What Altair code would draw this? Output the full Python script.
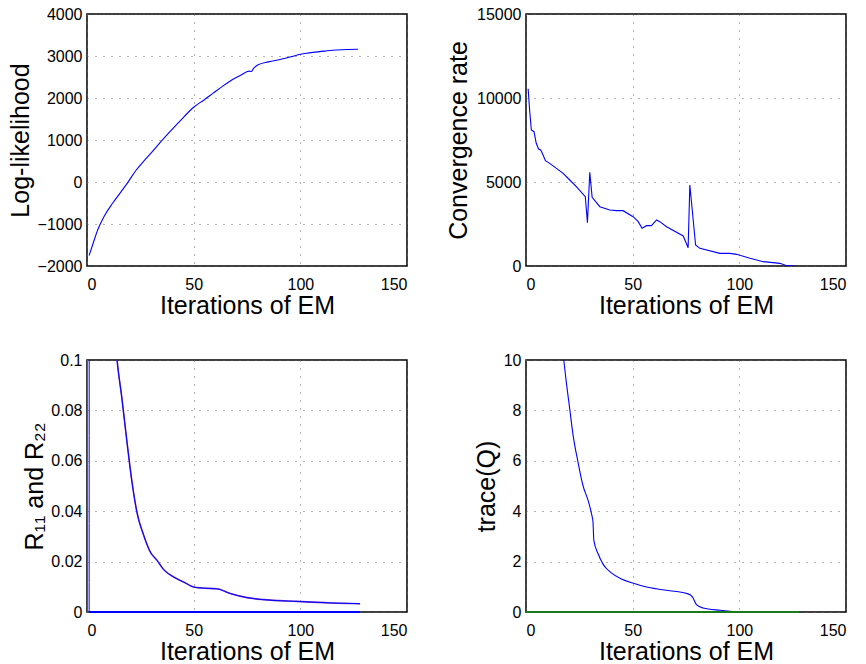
import altair as alt
import pandas as pd

# ---------------- data ----------------
ll_iter = [1, 3, 5, 8, 12, 16, 19, 23, 27, 30, 36, 43, 50, 55, 59, 63, 67, 72, 76, 77, 78, 80, 85, 91, 96, 100, 106, 112, 117, 122, 127]
ll_val = [-1750, -1440, -1143, -820, -507, -230, -20, 280, 520, 690, 1040, 1420, 1780, 1960, 2110, 2260, 2400, 2540, 2640, 2630, 2700, 2786, 2860, 2921, 2985, 3040, 3087, 3120, 3143, 3155, 3159]

cr_iter = [1, 1.7, 2.5, 3.75, 4.8, 5.9, 6.9, 8, 9.1, 11.1, 17.4, 20.5, 23.6, 27.8, 28.8, 29.9, 31, 34.6, 39.3, 42.4, 45.5, 50.2, 52.6, 54.4, 56.5, 58.8, 61.2, 62.7, 65.9, 73.7, 76, 76.8, 79.5, 81.5, 90.9, 95.6, 98.7, 105, 111.2, 119, 122.2, 126]
cr_val = [10550, 9286, 8095, 7996, 7302, 6964, 6905, 6607, 6270, 6111, 5516, 5119, 4722, 4127, 2579, 5575, 4087, 3532, 3333, 3294, 3294, 2937, 2639, 2242, 2401, 2401, 2738, 2639, 2341, 1786, 1091, 4821, 1250, 1052, 754, 754, 694, 456, 258, 159, 20, 0]

r_iter = [14.1, 16.4, 18.75, 21.1, 23.4, 26.6, 29.7, 32.8, 35.9, 40.6, 45.3, 50, 53.9, 60.9, 67.2, 75, 82.8, 98.4, 114, 128]
r_val = [0.1, 0.0845, 0.0674, 0.0515, 0.0396, 0.0304, 0.0238, 0.0205, 0.0169, 0.0139, 0.0119, 0.0099, 0.0095, 0.0092, 0.0073, 0.0057, 0.0049, 0.0042, 0.0036, 0.0033]
r11_start_iter = [0, 0.5, 3]
r11_start_val = [0, 0.5, 0.3]
r22_start_iter = [1, 1.2, 3]
r22_start_val = [0, 0.5, 0.3]
r_off_iter = [1, 128]
r_off_val = [0, 0]

q_iter = [16, 17.7, 18.9, 20.5, 22.1, 24.4, 26.7, 29.1, 30.7, 31.4, 31.8, 33.8, 36.1, 40, 45, 50, 56, 64, 76, 78, 80, 83, 91, 100, 128]
q_val = [11.5, 10, 9.11, 8.06, 7.0, 5.94, 5.02, 4.43, 3.9, 3.57, 2.84, 2.31, 1.9, 1.55, 1.3, 1.15, 1.0, 0.88, 0.72, 0.6, 0.28, 0.16, 0.07, 0.01, 0]
q2_iter = [0, 128]
q2_val = [0, 0]

x_ticks = [0, 50, 100, 150]

FONT = "Liberation Sans"
W, H = 320, 252


def df(xs, ys):
    return pd.DataFrame({"it": xs, "v": ys})


def xenc():
    return alt.X("it:Q", scale=alt.Scale(domain=[0, 150], nice=False, zero=False),
                 axis=alt.Axis(values=x_ticks, title="Iterations of EM", titleY=47,
                               titleBaseline="alphabetic"))


def yenc(dom, ticks, title, tx):
    return alt.Y("v:Q", scale=alt.Scale(domain=dom, nice=False, zero=False),
                 axis=alt.Axis(values=ticks, title=title, titleX=tx,
                               titleBaseline="alphabetic", titleAngle=270))


def line(data, dom, ticks, title, tx, color="#0000ff", width=1.1, interp="linear", clip=True):
    return alt.Chart(data).mark_line(clip=clip, color=color, strokeWidth=width,
                                     interpolate=interp).encode(
        x=xenc(), y=yenc(dom, ticks, title, tx))


ll_dom, ll_ticks = [-2000, 4000], [-2000, -1000, 0, 1000, 2000, 3000, 4000]
p1 = line(df(ll_iter, ll_val), ll_dom, ll_ticks, "Log-likelihood", -59,
          interp="monotone").properties(width=W, height=H)

cr_dom, cr_ticks = [0, 15000], [0, 5000, 10000, 15000]
p2 = line(df(cr_iter, cr_val), cr_dom, cr_ticks, "Convergence rate", -60).properties(width=W, height=H)

r_dom, r_ticks = [0, 0.1], [0, 0.02, 0.04, 0.06, 0.08, 0.1]
rt = "R\u2081\u2081 and R\u2082\u2082"
p3 = alt.layer(
    line(df(r11_start_iter + r_iter, r11_start_val + r_val), r_dom, r_ticks, rt, -45,
         color="#8040c0", width=1.6, interp="monotone"),
    line(df(r22_start_iter + r_iter, r22_start_val + r_val), r_dom, r_ticks, rt, -45,
         width=1.0, interp="monotone"),
    line(df(r_off_iter, r_off_val), r_dom, r_ticks, rt, -45, width=2.2, clip=False),
).properties(width=W, height=H)

q_dom, q_ticks = [0, 10], [0, 2, 4, 6, 8, 10]
p4 = alt.layer(
    line(df(q_iter, q_val), q_dom, q_ticks, "trace(Q)", -32, interp="monotone"),
    line(df(q2_iter, q2_val), q_dom, q_ticks, "trace(Q)", -32, color="#1a7a1a", width=2,
         clip=False),
).properties(width=W, height=H)

chart = alt.concat(p1, p2, p3, p4, columns=2, bounds="flush",
                   spacing={"row": 94, "column": 119}).properties(
    padding={"left": -1, "top": -3, "right": 5, "bottom": 0}
).configure_view(
    stroke="#000000", strokeWidth=1.5
).configure_axis(
    labelFont=FONT, labelFontSize=16, labelColor="#000000",
    titleFont=FONT, titleFontSize=25, titleFontWeight="normal", titleColor="#000000",
    grid=True, gridColor="#666666", gridDash=[1, 7], gridWidth=1,
    ticks=False, domain=False, format="~r",
).configure_axisX(labelPadding=10).configure_axisY(labelPadding=5)

chart.save("out.html", embed_options={"renderer": "svg", "actions": False})
